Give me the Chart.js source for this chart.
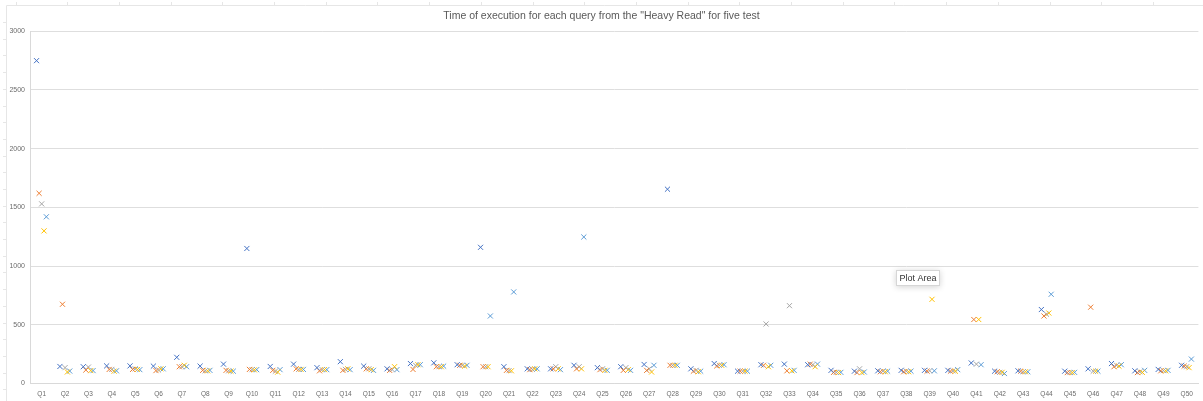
<!DOCTYPE html>
<html>
<head>
<meta charset="utf-8">
<script src="https://cdn.jsdelivr.net/npm/chart.js@4/dist/chart.umd.min.js"></script>
<style>
  html, body { margin: 0; padding: 0; background: #ffffff; }
  #wrap { width: 1203px; height: 401px; position: relative; }
</style>
</head>
<body>
<div id="wrap"><canvas id="chart"></canvas></div>
<script>
// Queries of the "Heavy Read" workload
const categories = Array.from({ length: 50 }, (_, i) => 'Q' + (i + 1));

// Execution time per query, one array per test run
const test1 = [2750, 145, 143, 150, 150, 148, 223, 148, 165, 1150,
               145, 165, 135, 186, 148, 125, 170, 176, 160, 1160,
               143, 125, 125, 155, 135, 143, 162, 1655, 125, 170,
               105, 160, 165, 160, 112, 105, 108, 112, 112, 112,
               175, 105, 108, 630, 105, 125, 170, 108, 120, 155];
const test2 = [1620, 675, 115, 120, 120, 110, 143, 112, 112, 120,
               112, 125, 108, 112, 125, 112, 120, 143, 155, 143,
               112, 118, 125, 125, 118, 112, 112, 155, 105, 150,
               105, 155, 108, 165, 95, 93, 100, 100, 105, 105,
               545, 100, 105, 575, 93, 650, 143, 93, 108, 148];
const test3 = [1530, 135, 140, 120, 125, 115, 143, 108, 108, 118,
               105, 120, 118, 120, 125, 118, 155, 143, 155, 143,
               110, 120, 143, 143, 125, 135, 125, 155, 112, 155,
               105, 507, 663, 160, 95, 125, 105, 105, 108, 108,
               165, 95, 100, 590, 93, 105, 155, 100, 110, 143];
const test4 = [1300, 98, 110, 105, 120, 125, 155, 108, 105, 116,
               97, 120, 118, 125, 118, 143, 160, 143, 148, 143,
               108, 125, 125, 125, 112, 118, 98, 155, 100, 155,
               105, 143, 108, 143, 93, 93, 100, 100, 717, 105,
               545, 95, 100, 600, 93, 105, 148, 95, 108, 135];
const test5 = [1420, 106, 110, 108, 118, 125, 143, 112, 105, 118,
               118, 120, 118, 118, 112, 118, 160, 148, 155, 575,
               780, 125, 118, 1248, 112, 112, 155, 155, 105, 160,
               105, 155, 112, 165, 95, 98, 105, 105, 108, 118,
               160, 85, 100, 760, 95, 105, 160, 112, 112, 208];

const seriesNames = ['Test 1', 'Test 2', 'Test 3', 'Test 4', 'Test 5'];
const seriesColors = ['#4472C4', '#ED7D31', '#A5A5A5', '#FFC000', '#5B9BD5'];
const yTicks = [0, 500, 1000, 1500, 2000, 2500, 3000];

// Each test run sits slightly apart inside its query slot
const slotOffsets = [-0.22, -0.11, 0, 0.1, 0.2];

const runs = [test1, test2, test3, test4, test5];
const datasets = runs.map((values, k) => ({
  label: seriesNames[k],
  data: values.map((v, i) => ({ x: i + 1 + slotOffsets[k], y: v })),
  showLine: false,
  pointStyle: 'crossRot',
  pointRadius: 3.6,
  pointHoverRadius: 3.6,
  borderWidth: 1,
  borderColor: seriesColors[k],
  backgroundColor: seriesColors[k]
}));

// Faint sheet frame behind the chart and the hover hint box
const framePlugin = {
  id: 'frame',
  beforeDraw(chart) {
    const ctx = chart.ctx;
    ctx.save();
    ctx.strokeStyle = '#e6e6e6';
    ctx.lineWidth = 1;
    ctx.beginPath();
    ctx.moveTo(6.5, 5.5); ctx.lineTo(1203, 5.5);
    ctx.moveTo(6.5, 5.5); ctx.lineTo(6.5, 401);
    for (let x = 15.5; x < 1203; x += 51.7) { ctx.moveTo(Math.round(x) + 0.5, 2); ctx.lineTo(Math.round(x) + 0.5, 5.5); }
    for (let y = 22; y < 401; y += 16.7) { ctx.moveTo(3, Math.round(y) + 0.5); ctx.lineTo(6.5, Math.round(y) + 0.5); }
    ctx.stroke();
    ctx.restore();
  },
  afterDraw(chart) {
    const ctx = chart.ctx;
    const bx = 896, by = 270, bw = 44, bh = 16;
    ctx.save();
    ctx.shadowColor = 'rgba(0,0,0,0.18)';
    ctx.shadowBlur = 6;
    ctx.shadowOffsetY = 1;
    ctx.fillStyle = '#ffffff';
    ctx.fillRect(bx, by, bw, bh);
    ctx.shadowColor = 'transparent';
    ctx.strokeStyle = '#d6d6d6';
    ctx.lineWidth = 1;
    ctx.strokeRect(bx + 0.5, by + 0.5, bw - 1, bh - 1);
    ctx.fillStyle = '#333333';
    ctx.font = '9px "Liberation Sans", Arial, sans-serif';
    ctx.textAlign = 'center';
    ctx.textBaseline = 'middle';
    ctx.fillText('Plot Area', bx + bw / 2, by + bh / 2 + 0.5);
    ctx.restore();
  }
};

new Chart(document.getElementById('chart'), {
  type: 'scatter',
  data: { datasets },
  plugins: [framePlugin],
  options: {
    responsive: true,
    maintainAspectRatio: false,
    animation: false,
    layout: { padding: { left: 0, right: 0, top: 0, bottom: 0 } },
    plugins: {
      legend: { display: false },
      tooltip: { enabled: false },
      title: {
        display: true,
        text: 'Time of execution for each query from the "Heavy Read" for five test',
        color: '#595959',
        font: { family: '"Liberation Sans", Arial, sans-serif', size: 10.5, weight: 'normal', lineHeight: 1.2 },
        padding: { top: 10, bottom: 8.7 }
      }
    },
    scales: {
      x: {
        type: 'linear',
        min: 0.5,
        max: 50.5,
        afterBuildTicks(scale) {
          scale.ticks = categories.map((_, i) => ({ value: i + 1 }));
        },
        afterFit(scale) { scale.height = 17.5; },
        grid: { display: false, drawTicks: false },
        border: { display: true, color: '#d9d9d9', width: 1 },
        ticks: {
          autoSkip: false,
          maxRotation: 0,
          padding: 7,
          color: '#6b6b6b',
          font: { family: '"Liberation Sans", Arial, sans-serif', size: 6.5 },
          callback: (v) => categories[v - 1]
        }
      },
      y: {
        min: 0,
        max: 3000,
        afterBuildTicks(scale) {
          scale.ticks = yTicks.map(v => ({ value: v }));
        },
        afterFit(scale) { scale.width = 30; },
        grid: { color: '#dedede', lineWidth: 1, drawTicks: false },
        border: { display: true, color: '#d9d9d9', width: 1 },
        ticks: {
          padding: 5,
          color: '#6b6b6b',
          font: { family: '"Liberation Sans", Arial, sans-serif', size: 7 },
          callback: (v) => String(v)
        }
      }
    }
  }
});
</script>
</body>
</html>
